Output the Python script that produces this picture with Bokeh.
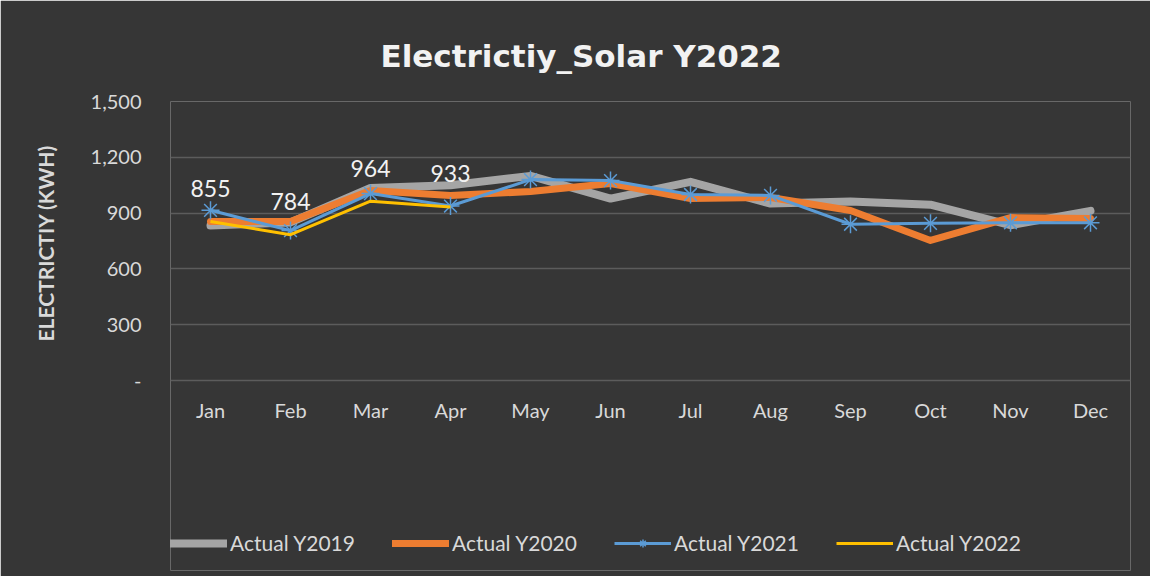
from bokeh.plotting import figure
from bokeh.models import Legend, LegendItem, FactorRange, Range1d, FixedTicker, ColumnDataSource, Title
from bokeh.core.properties import value
from bokeh.embed import file_html
from bokeh.resources import INLINE

months = ["Jan", "Feb", "Mar", "Apr", "May", "Jun", "Jul", "Aug", "Sep", "Oct", "Nov", "Dec"]
actual_2019 = [833, 850, 1035, 1050, 1100, 978, 1068, 951, 962, 945, 835, 912]
actual_2020 = [855, 855, 1021, 995, 1016, 1059, 978, 984, 914, 753, 876, 871]
actual_2021 = [915, 806, 1005, 938, 1080, 1075, 1000, 995, 840, 845, 848, 848]
actual_2022 = [855, 784, 964, 933]
months_2022 = months[:4]
y_ticks = [0, 300, 600, 900, 1200, 1500]
y_tick_labels = ["-", "300", "600", "900", "1,200", "1,500"]

FONT = "Lato"
BG = "#363636"
TXT = "#d9d9d9"

# frame spans 101..570 px; 0..1500 occupies the top 279 px, the rest holds the legend
Y_MAX = 1500
Y_MIN = Y_MAX - 469 * Y_MAX / 279

p = figure(width=1150, height=576, x_range=FactorRange(*months, range_padding=0),
           y_range=Range1d(Y_MIN, Y_MAX), output_backend="svg", toolbar_location=None,
           min_border_left=166, min_border_right=20, min_border_top=101, min_border_bottom=6)

p.background_fill_color = BG
p.border_fill_color = BG
p.outline_line_color = None

p.title.text = "Electrictiy_Solar Y2022"
p.title.align = "left"
p.title.offset = 210
p.title.text_font = "DejaVu Sans"
p.title.text_font_style = "bold"
p.title.text_font_size = "31px"
p.title.text_color = "#f2f2f2"
p.title.standoff = 55

p.xgrid.grid_line_color = None
p.ygrid.grid_line_color = "#5c5c5c"
p.ygrid.grid_line_width = 1.5
p.yaxis.ticker = FixedTicker(ticks=y_ticks)
p.yaxis.major_label_overrides = dict(zip(y_ticks, y_tick_labels))

for ax in (p.xaxis, p.yaxis):
    ax.axis_line_color = None
    ax.major_tick_line_color = None
    ax.minor_tick_line_color = None
    ax.major_tick_out = 0
    ax.major_tick_in = 0
    ax.major_label_text_font = FONT
    ax.major_label_text_font_size = "20px"
    ax.major_label_text_color = TXT

p.xaxis.fixed_location = 0
p.xaxis.major_label_standoff = 17
p.yaxis.major_label_standoff = 29

ytitle = Title(text="ELECTRICTIY (KWH)", align="left", offset=229, standoff=60,
               text_font=FONT, text_font_style="bold", text_font_size="21px", text_color=TXT)
p.add_layout(ytitle, "left")

r19 = p.line(months, actual_2019, line_color="#a5a5a5", line_width=8, line_join="round", line_cap="round")
r20 = p.line(months, actual_2020, line_color="#ed7d31", line_width=7, line_join="round", line_cap="round")
r21 = p.line(months, actual_2021, line_color="#5b9bd5", line_width=3, line_join="round")
m21 = p.scatter(months, actual_2021, marker="asterisk", size=18, line_color="#5b9bd5", line_width=1.5)
r22 = p.line(months_2022, actual_2022, line_color="#ffc000", line_width=3, line_join="round")

lab_src = ColumnDataSource(dict(x=months_2022, y=actual_2022, t=[str(v) for v in actual_2022]))
p.text(x="x", y="y", text="t", source=lab_src, text_align="center", text_baseline="middle",
       y_offset=-33, text_font=value(FONT), text_font_size="23px", text_color="#f2f2f2")

legend = Legend(items=[
    LegendItem(label="Actual Y2019", renderers=[r19]),
    LegendItem(label="Actual Y2020", renderers=[r20]),
    LegendItem(label="Actual Y2021", renderers=[r21, m21]),
    LegendItem(label="Actual Y2022", renderers=[r22]),
], orientation="horizontal", location=(0, 15))
legend.background_fill_alpha = 0
legend.border_line_color = None
legend.label_text_font = FONT
legend.label_text_font_size = "21px"
legend.label_text_color = TXT
legend.glyph_width = 57
legend.glyph_height = 20
legend.spacing = 37
legend.label_standoff = 3
legend.padding = 0
legend.margin = 0
p.add_layout(legend)

open("out.html", "w").write(file_html(p, INLINE))
